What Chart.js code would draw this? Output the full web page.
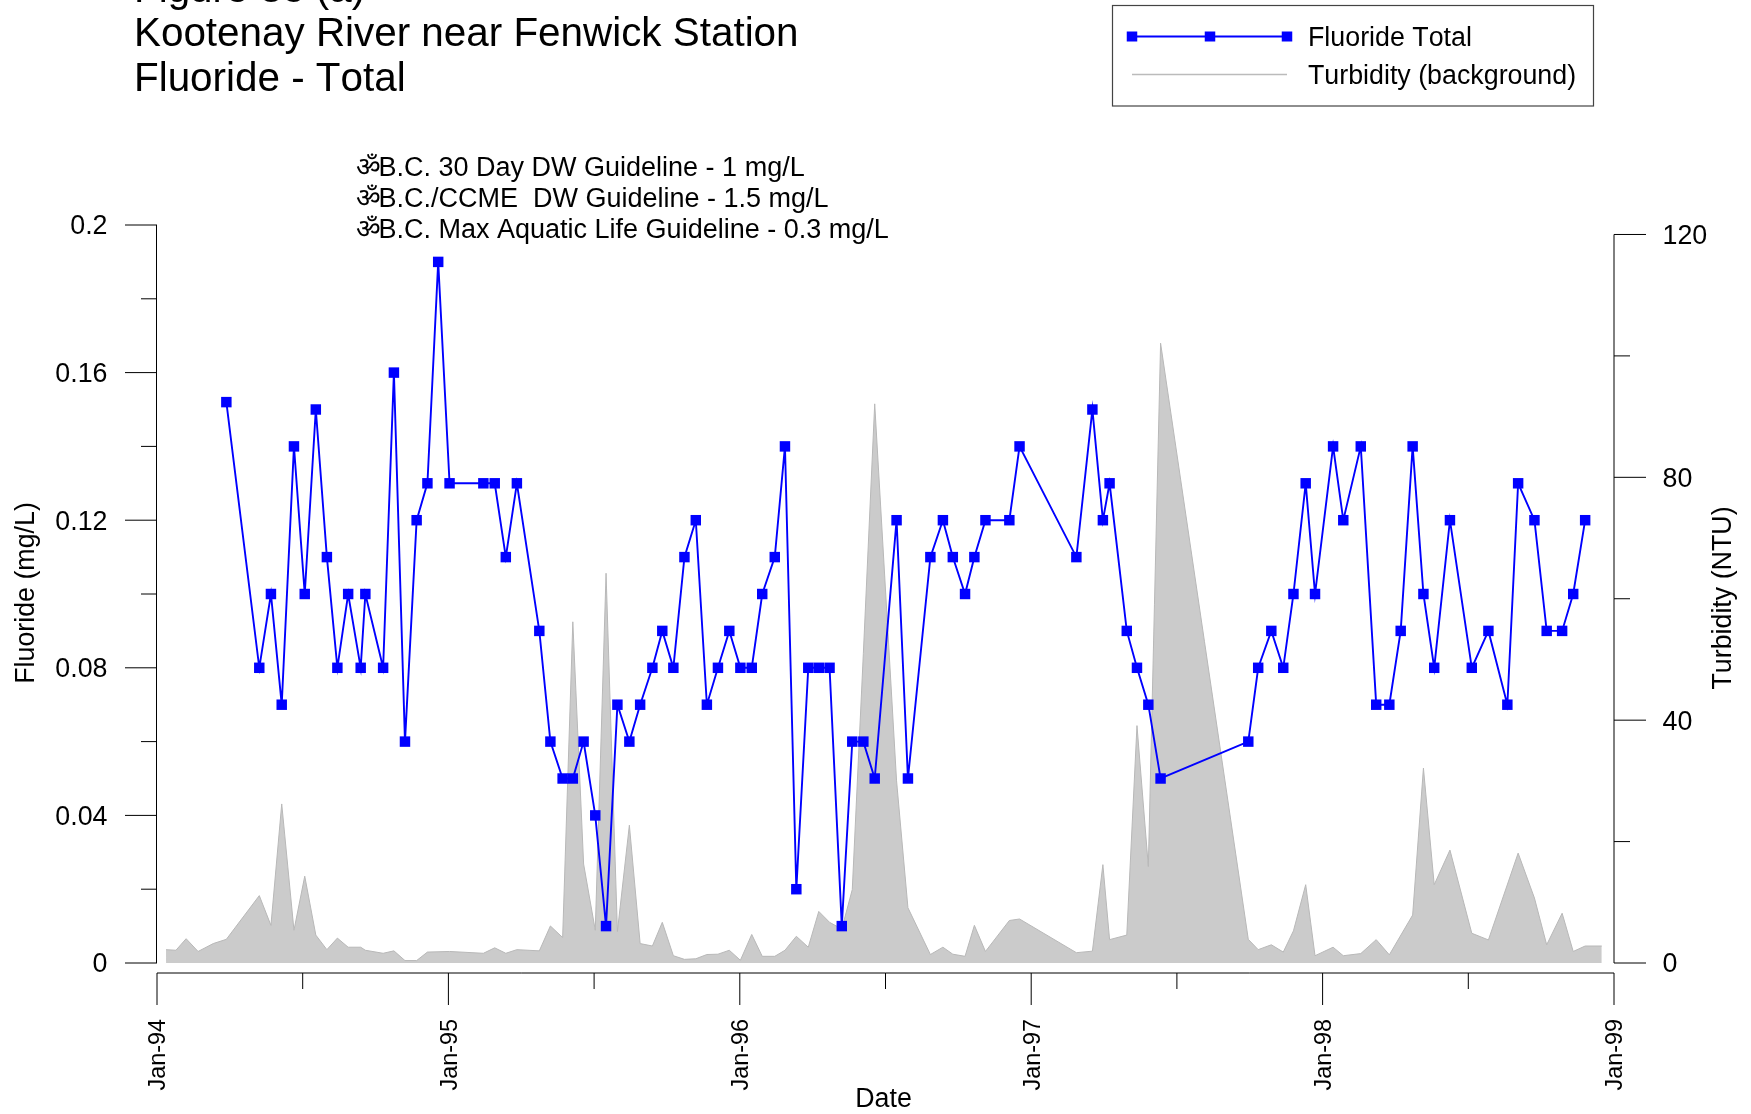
<!DOCTYPE html>
<html>
<head>
<meta charset="utf-8">
<title>Kootenay River near Fenwick Station</title>
<script src="https://cdn.jsdelivr.net/npm/chart.js@4"></script>
<style>
    html, body { margin: 0; padding: 0; background: #fff; }
    #wrap { width: 1751px; height: 1114px; }
</style>
</head>
<body>
<div id="wrap"><canvas id="chart" width="1751" height="1114"></canvas></div>
<script>
// dates are decimal years
const fluorideDates = [
    1994.238, 1994.351, 1994.391, 1994.428, 1994.470, 1994.507, 1994.545, 1994.583, 1994.619, 1994.656,
    1994.699, 1994.715, 1994.776, 1994.813, 1994.851, 1994.891, 1994.928, 1994.965, 1995.004, 1995.120,
    1995.159, 1995.197, 1995.235, 1995.312, 1995.350, 1995.392, 1995.427, 1995.464, 1995.504, 1995.541,
    1995.580, 1995.621, 1995.658, 1995.700, 1995.734, 1995.772, 1995.810, 1995.849, 1995.887, 1995.925,
    1995.964, 1996.002, 1996.041, 1996.077, 1996.120, 1996.155, 1996.194, 1996.235, 1996.271, 1996.308,
    1996.350, 1996.386, 1996.424, 1996.463, 1996.538, 1996.577, 1996.654, 1996.697, 1996.731, 1996.773,
    1996.805, 1996.843, 1996.925, 1996.960, 1997.155, 1997.210, 1997.246, 1997.269, 1997.328, 1997.363,
    1997.402, 1997.444, 1997.745, 1997.779, 1997.824, 1997.865, 1997.900, 1997.942, 1997.974, 1998.036,
    1998.071, 1998.131, 1998.184, 1998.229, 1998.268, 1998.309, 1998.346, 1998.383, 1998.437, 1998.512,
    1998.569, 1998.634, 1998.671, 1998.727, 1998.769, 1998.822, 1998.860, 1998.901
];
const fluorideValues = [
    0.152, 0.08, 0.10, 0.07, 0.14, 0.10, 0.15, 0.11, 0.08, 0.10,
    0.08, 0.10, 0.08, 0.16, 0.06, 0.12, 0.13, 0.19, 0.13, 0.13,
    0.13, 0.11, 0.13, 0.09, 0.06, 0.05, 0.05, 0.06, 0.04, 0.01,
    0.07, 0.06, 0.07, 0.08, 0.09, 0.08, 0.11, 0.12, 0.07, 0.08,
    0.09, 0.08, 0.08, 0.10, 0.11, 0.14, 0.02, 0.08, 0.08, 0.08,
    0.01, 0.06, 0.06, 0.05, 0.12, 0.05, 0.11, 0.12, 0.11, 0.10,
    0.11, 0.12, 0.12, 0.14, 0.11, 0.15, 0.12, 0.13, 0.09, 0.08,
    0.07, 0.05, 0.06, 0.08, 0.09, 0.08, 0.10, 0.13, 0.10, 0.14,
    0.12, 0.14, 0.07, 0.07, 0.09, 0.14, 0.10, 0.08, 0.12, 0.08,
    0.09, 0.07, 0.13, 0.12, 0.09, 0.09, 0.10, 0.12
];
const turbidityDates = [
    1994.031, 1994.065, 1994.100, 1994.141, 1994.193, 1994.238, 1994.351, 1994.391, 1994.428, 1994.470,
    1994.507, 1994.545, 1994.583, 1994.619, 1994.656, 1994.699, 1994.715, 1994.776, 1994.813, 1994.851,
    1994.891, 1994.928, 1995.004, 1995.120, 1995.159, 1995.197, 1995.235, 1995.312, 1995.350, 1995.392,
    1995.427, 1995.464, 1995.504, 1995.541, 1995.580, 1995.621, 1995.658, 1995.700, 1995.734, 1995.772,
    1995.810, 1995.849, 1995.887, 1995.925, 1995.964, 1996.002, 1996.041, 1996.077, 1996.120, 1996.155,
    1996.194, 1996.235, 1996.271, 1996.308, 1996.350, 1996.386, 1996.424, 1996.463, 1996.538, 1996.577,
    1996.654, 1996.697, 1996.731, 1996.773, 1996.805, 1996.843, 1996.925, 1996.960, 1997.155, 1997.210,
    1997.246, 1997.269, 1997.328, 1997.363, 1997.402, 1997.444, 1997.745, 1997.779, 1997.824, 1997.865,
    1997.900, 1997.942, 1997.974, 1998.036, 1998.071, 1998.131, 1998.184, 1998.229, 1998.309, 1998.346,
    1998.383, 1998.437, 1998.512, 1998.569, 1998.671, 1998.727, 1998.769, 1998.822, 1998.860, 1998.901,
    1998.958
];
const turbidityValues = [
    2.2, 2.1, 4.0, 1.9, 3.2, 3.9, 11.1, 6.2, 26.2, 5.4,
    14.3, 4.6, 2.2, 4.1, 2.6, 2.6, 2.1, 1.6, 2.0, 0.4,
    0.4, 1.8, 1.9, 1.6, 2.5, 1.6, 2.2, 2.0, 6.1, 4.2,
    56.2, 16.3, 5.4, 64.2, 5.2, 22.7, 3.2, 2.8, 6.7, 1.2,
    0.6, 0.7, 1.4, 1.45, 2.1, 0.45, 4.7, 1.1, 1.1, 2.1,
    4.4, 2.6, 8.5, 6.7, 5.6, 12.1, 51, 92.1, 30, 9.1,
    1.4, 2.6, 1.45, 1.1, 6.2, 1.9, 7, 7.25, 1.7, 1.95,
    16.2, 3.85, 4.6, 39.1, 15.9, 102.1, 3.9, 2.2, 3, 1.8,
    5.3, 12.9, 1.2, 2.6, 1.2, 1.55, 3.85, 1.35, 7.9, 32.1,
    12.9, 18.6, 4.9, 3.8, 18.1, 10.7, 3, 8.2, 1.9, 2.8,
    2.8
];

const titleLines = ['Figure 38 (a)', 'Kootenay River near Fenwick Station', 'Fluoride - Total'];
const noteMark = 'ॐ';
const noteLines = [
    'B.C. 30 Day DW Guideline - 1 mg/L',
    'B.C./CCME  DW Guideline - 1.5 mg/L',
    'B.C. Max Aquatic Life Guideline - 0.3 mg/L'
];
const seriesNames = ['Fluoride Total', 'Turbidity (background)'];
const yearLabels = { 1994: 'Jan-94', 1995: 'Jan-95', 1996: 'Jan-96', 1997: 'Jan-97', 1998: 'Jan-98', 1999: 'Jan-99' };
const fluorideTicks = [0, 0.02, 0.04, 0.06, 0.08, 0.10, 0.12, 0.14, 0.16, 0.18, 0.20];
const fluorideLabels = ['0', '', '0.04', '', '0.08', '', '0.12', '', '0.16', '', '0.2'];
const turbidityTicks = [0, 20, 40, 60, 80, 100, 120];
const turbidityLabels = ['0', '', '40', '', '80', '', '120'];
const dateTicks = [1994, 1994.5, 1995, 1995.5, 1996, 1996.5, 1997, 1997.5, 1998, 1998.5, 1999];

const FONT = '"Liberation Sans", Arial, sans-serif';
const BLUE = '#0000ff';

function pairs(xs, ys) {
    return xs.map(function (x, i) { return { x: x, y: ys[i] }; });
}

function sideways(c, text, x, y) {
    c.save();
    c.translate(x, y);
    c.rotate(-Math.PI / 2);
    c.textAlign = 'center';
    c.textBaseline = 'middle';
    c.fillText(text, 0, 0);
    c.restore();
}

// nudge the library's tick labels a little, the reference sits lower than canvas "middle"
const labelNudge = {
    id: 'labelNudge',
    afterLayout: function (chart) {
        ['y', 'y2'].forEach(function (id) {
            chart.scales[id].getLabelItems().forEach(function (it) { it.options.translation[1] += 2; });
        });
        chart.scales.x.getLabelItems().forEach(function (it) { it.options.translation[0] += 2; });
    }
};

// axis lines and tick marks: x axis sits 10px under the plot, ticks have two lengths
const axisMarks = {
    id: 'axisMarks',
    afterDraw: function (chart) {
        const c = chart.ctx;
        const xs = chart.scales.x, yl = chart.scales.y, yr = chart.scales.y2;
        const base = chart.chartArea.bottom;
        c.save();
        c.strokeStyle = '#000';
        c.lineWidth = 1;
        c.beginPath();
        c.moveTo(xs.left, base + 10);
        c.lineTo(xs.right, base + 10);
        dateTicks.forEach(function (t) {
            const px = xs.getPixelForValue(t);
            c.moveTo(px, base + 10);
            c.lineTo(px, base + 10 + (t % 1 === 0 ? 32 : 16));
        });
        c.moveTo(xs.left - 0.5, yl.getPixelForValue(0));
        c.lineTo(xs.left - 0.5, yl.getPixelForValue(0.2));
        fluorideTicks.forEach(function (t, i) {
            const py = yl.getPixelForValue(t);
            c.moveTo(xs.left, py);
            c.lineTo(xs.left - (i % 2 === 0 ? 32 : 16), py);
        });
        c.moveTo(xs.right, yr.getPixelForValue(0));
        c.lineTo(xs.right, yr.getPixelForValue(120));
        turbidityTicks.forEach(function (t, i) {
            const py = yr.getPixelForValue(t);
            c.moveTo(xs.right, py);
            c.lineTo(xs.right + (i % 2 === 0 ? 32 : 16), py);
        });
        c.stroke();
        c.restore();
    }
};

// title block, guideline notes, axis titles and the boxed legend
const textBlocks = {
    id: 'textBlocks',
    afterDraw: function (chart) {
        const c = chart.ctx;
        c.save();
        c.fontKerning = 'none';
        c.fillStyle = '#000';
        c.textBaseline = 'alphabetic';
        c.textAlign = 'left';
        c.font = '40.4px ' + FONT;
        titleLines.forEach(function (s, i) { c.fillText(s, 134, 1.6 + i * 44.7); });
        c.font = '26.8px ' + FONT;
        sideways(c, 'Fluoride (mg/L)', 27, 593);
        sideways(c, 'Turbidity (NTU)', 1724, 598);
        c.textAlign = 'center';
        c.textBaseline = 'middle';
        c.fillText('Date', 883.5, 1100);
        c.textAlign = 'left';
        c.textBaseline = 'alphabetic';
        c.fillText(seriesNames[0], 1308, 46);
        c.fillText(seriesNames[1], 1308, 84);
        c.font = '27px ' + FONT;
        noteLines.forEach(function (s, i) {
            c.fillText(noteMark, 356, 175.5 + i * 31.4);
            c.fillText(s, 378.5, 175.5 + i * 31.4);
        });

        c.strokeStyle = '#444';
        c.lineWidth = 1.2;
        c.strokeRect(1112.5, 5.5, 481, 100.5);
        c.strokeStyle = BLUE;
        c.lineWidth = 1.9;
        c.beginPath();
        c.moveTo(1132, 36.5);
        c.lineTo(1287, 36.5);
        c.stroke();
        c.fillStyle = BLUE;
        [1132, 1210, 1287].forEach(function (x) { c.fillRect(x - 5.25, 31.5, 10.5, 10); });
        c.strokeStyle = '#bbbbbb';
        c.lineWidth = 1.6;
        c.beginPath();
        c.moveTo(1132, 74.5);
        c.lineTo(1287, 74.5);
        c.stroke();
        c.restore();
    }
};

const ctx = document.getElementById('chart');
const mychart = new Chart(ctx, {
    type: 'line',
    data: {
        datasets: [{
            label: seriesNames[0],
            data: pairs(fluorideDates, fluorideValues),
            yAxisID: 'y',
            borderColor: BLUE,
            borderWidth: 1.9,
            pointStyle: 'rect',
            pointRadius: 7.4,
            pointBorderWidth: 0,
            pointBackgroundColor: BLUE,
            tension: 0,
            order: 1
        }, {
            label: seriesNames[1],
            data: pairs(turbidityDates, turbidityValues),
            yAxisID: 'y2',
            borderColor: '#b8b8b8',
            borderWidth: 1,
            backgroundColor: '#cbcbcb',
            pointRadius: 0,
            fill: 'origin',
            tension: 0,
            order: 2
        }]
    },
    plugins: [labelNudge, axisMarks, textBlocks],
    options: {
        responsive: false,
        animation: false,
        layout: { padding: { top: 225 } },
        plugins: {
            legend: { display: false },
            tooltip: { enabled: false }
        },
        scales: {
            x: {
                type: 'linear',
                min: 1994,
                max: 1999,
                afterFit: function (scale) { scale.height = 151; },
                afterBuildTicks: function (scale) {
                    scale.ticks = Object.keys(yearLabels).map(function (k) { return { value: +k }; });
                },
                grid: { display: false },
                border: { display: false },
                ticks: {
                    autoSkip: false,
                    maxRotation: 90,
                    minRotation: 90,
                    padding: 48,
                    color: '#000',
                    font: { family: FONT, size: 23.4 },
                    callback: function (v) { return yearLabels[v]; }
                }
            },
            y: {
                position: 'left',
                min: 0,
                max: 0.2,
                afterFit: function (scale) { scale.width = 157; },
                afterBuildTicks: function (scale) {
                    scale.ticks = fluorideTicks.map(function (v) { return { value: v }; });
                },
                grid: { display: false },
                border: { display: false },
                ticks: {
                    autoSkip: false,
                    padding: 41.5,
                    color: '#000',
                    font: { family: FONT, size: 26.8 },
                    callback: function (v, i) { return fluorideLabels[i]; }
                }
            },
            y2: {
                position: 'right',
                min: 0,
                max: 121.56,
                afterFit: function (scale) { scale.width = 137; },
                afterBuildTicks: function (scale) {
                    scale.ticks = turbidityTicks.map(function (v) { return { value: v }; });
                },
                grid: { display: false },
                border: { display: false },
                ticks: {
                    autoSkip: false,
                    padding: 40.5,
                    color: '#000',
                    font: { family: FONT, size: 26.8 },
                    callback: function (v, i) { return turbidityLabels[i]; }
                }
            }
        }
    }
});
</script>
</body>
</html>
